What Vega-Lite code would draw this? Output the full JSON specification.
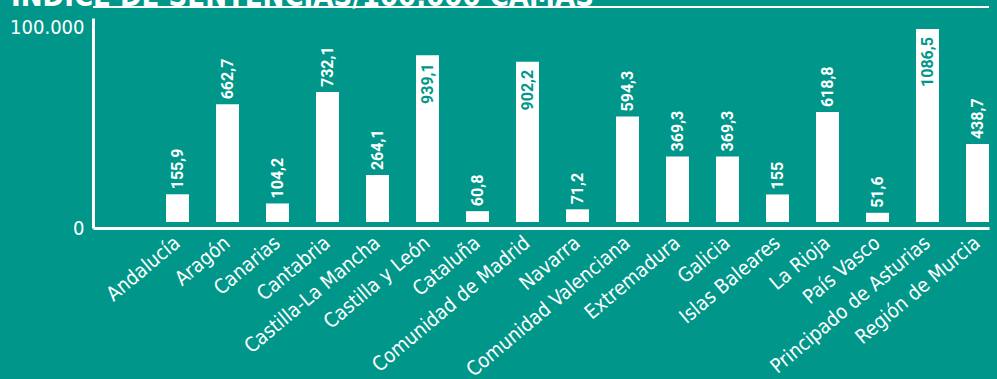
{
  "$schema": "https://vega.github.io/schema/vega-lite/v6.json",
  "width": 896,
  "height": 210,
  "autosize": "none",
  "padding": {"left": 93, "top": 18, "right": 8, "bottom": 151},
  "background": "#00978A",
  "config": {
    "view": {"stroke": null},
    "locale": {"number": {"decimal": ",", "thousands": ".", "grouping": [3], "currency": ["", " €"]}}
  },
  "title": {
    "text": "ÍNDICE DE SENTENCIAS/100.000 CAMAS",
    "anchor": "start",
    "frame": "group",
    "dx": -82,
    "offset": -29,
    "baseline": "alphabetic",
    "font": "DejaVu Sans Condensed",
    "fontWeight": "bold",
    "fontSize": 29,
    "color": "white"
  },
  "data": {
    "values": [
      {"region": "Andalucía", "v": 155.9},
      {"region": "Aragón", "v": 662.7},
      {"region": "Canarias", "v": 104.2},
      {"region": "Cantabria", "v": 732.1},
      {"region": "Castilla-La Mancha", "v": 264.1},
      {"region": "Castilla y León", "v": 939.1},
      {"region": "Cataluña", "v": 60.8},
      {"region": "Comunidad de Madrid", "v": 902.2},
      {"region": "Navarra", "v": 71.2},
      {"region": "Comunidad Valenciana", "v": 594.3},
      {"region": "Extremadura", "v": 369.3},
      {"region": "Galicia", "v": 369.3},
      {"region": "Islas Baleares", "v": 155},
      {"region": "La Rioja", "v": 618.8},
      {"region": "País Vasco", "v": 51.6},
      {"region": "Principado de Asturias", "v": 1086.5},
      {"region": "Región de Murcia", "v": 438.7}
    ]
  },
  "encoding": {
    "x": {
      "field": "region",
      "type": "nominal",
      "sort": null,
      "scale": {"paddingInner": 0.54, "paddingOuter": 0.73, "align": 1},
      "axis": {
        "title": null,
        "labelAngle": -40,
        "labelAlign": "right",
        "labelBaseline": "middle",
        "labelFont": "DejaVu Sans Condensed",
        "labelFontSize": 20,
        "labelColor": "white",
        "labelLimit": 0,
        "labelPadding": 12,
        "labelOverlap": false,
        "ticks": false,
        "domainColor": "white",
        "domainWidth": 3
      }
    },
    "y": {
      "field": "v",
      "type": "quantitative",
      "scale": {"domain": [-34, 1149], "nice": false},
      "axis": {
        "title": null,
        "values": [-34, 1098],
        "labelExpr": "datum.value < 0 ? '0' : '100.000'",
        "grid": false,
        "ticks": false,
        "labelFont": "DejaVu Sans Condensed",
        "labelFontSize": 20,
        "labelColor": "white",
        "labelPadding": 9,
        "domainColor": "white",
        "domainWidth": 3
      }
    }
  },
  "layer": [
    {
      "mark": {"type": "rule", "clip": false, "color": "white", "strokeWidth": 1.5},
      "encoding": {"x": null, "y": {"datum": 1211}}
    },
    {
      "mark": {"type": "bar", "color": "white"}
    },
    {
      "transform": [{"filter": "datum.v <= 850"}],
      "mark": {"type": "text", "angle": 270, "align": "left", "baseline": "middle", "dx": 5, "font": "Roboto", "fontWeight": "bold", "fontSize": 16, "color": "white"},
      "encoding": {"text": {"field": "v", "type": "quantitative", "format": "~f"}}
    },
    {
      "transform": [{"filter": "datum.v > 850"}],
      "mark": {"type": "text", "angle": 270, "align": "right", "baseline": "middle", "dx": -8, "font": "Roboto", "fontWeight": "bold", "fontSize": 16, "color": "#00978A"},
      "encoding": {"text": {"field": "v", "type": "quantitative", "format": "~f"}}
    }
  ]
}
